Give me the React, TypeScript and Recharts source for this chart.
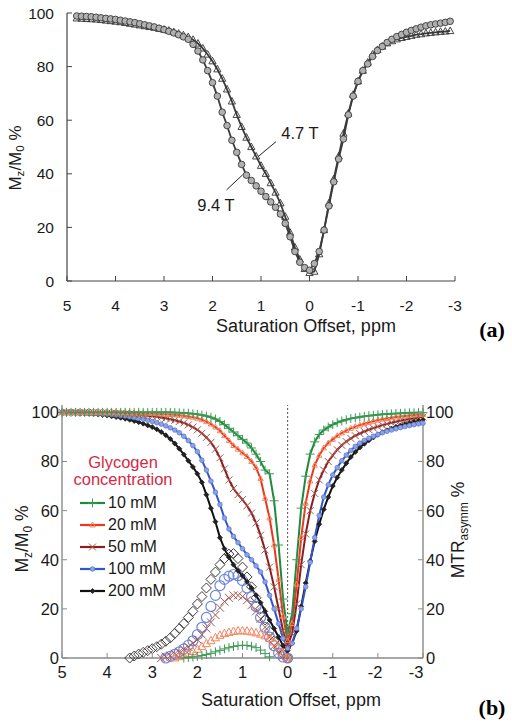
import React from 'react';
import { ComposedChart, Line, XAxis, YAxis, ReferenceLine, Legend } from 'recharts';

// ---------- Panel (a) data ----------
const offsetsA = [4.8, 4.7, 4.6, 4.5, 4.4, 4.3, 4.2, 4.1, 4.0, 3.9, 3.8, 3.7, 3.6, 3.5, 3.4, 3.3, 3.2, 3.1, 3.0, 2.9, 2.8, 2.7, 2.6, 2.5, 2.4, 2.3, 2.2, 2.1, 2.0, 1.9, 1.8, 1.7, 1.6, 1.5, 1.4, 1.3, 1.2, 1.1, 1.0, 0.9, 0.8, 0.7, 0.6, 0.5, 0.4, 0.3, 0.2, 0.1, 0.0, -0.1, -0.2, -0.3, -0.4, -0.5, -0.6, -0.7, -0.8, -0.9, -1.0, -1.1, -1.2, -1.3, -1.4, -1.5, -1.6, -1.7, -1.8, -1.9, -2.0, -2.1, -2.2, -2.3, -2.4, -2.5, -2.6, -2.7, -2.8, -2.9];
const mz94T = [98.9, 98.8, 98.7, 98.6, 98.4, 98.2, 98.0, 97.8, 97.6, 97.3, 97.0, 96.7, 96.4, 96.0, 95.6, 95.2, 94.8, 94.3, 93.8,
  93.2, 92.6, 91.9, 91.1, 90.2, 88.3, 85.8, 82.5, 78.5, 74.0, 69.0, 63.0, 58.0, 52.5, 48.0, 43.5, 39.5, 37.5, 35.5, 33.5, 31.5, 29.5, 27.5, 25.0, 21.5, 16.5, 11.0, 7.0, 5.0, 4.0,
  6.5, 11, 19, 28, 37, 45.5, 53, 62, 69, 74.5, 78.5, 81, 83.8, 86, 87.5, 89, 90.2, 91.2, 92, 92.8, 93.5, 94.1, 94.7, 95.2, 95.6, 95.9, 96.2, 96.5, 96.9];
const mz47T = [98.0, 97.9, 97.8, 97.7, 97.6, 97.4, 97.2, 97.0, 96.8, 96.6, 96.3, 96.0, 95.7, 95.4, 95.1, 94.8, 94.5, 94.1, 93.8,
  93.4, 92.9, 92.3, 91.7, 91.0, 90.0, 88.6, 86.8, 84.5, 82.0, 79.0, 75.5, 71.5, 67.0, 62.0, 57.5, 53.5, 50.0, 46.5, 43.0, 40.0, 36.5, 33.0, 29.0, 24.0, 18.0, 12.5, 8.0, 4.5, 3.0,
  3.5, 10, 19, 29, 38, 46.5, 55, 62.5, 69.5, 74.5, 78.5, 81.5, 84.5, 86.2, 87.5, 88.7, 89.5, 90.2, 90.7, 91.1, 91.5, 91.9, 92.1, 92.4, 92.6, 92.8, 93.0, 93.1, 93.3];
const ticksA = [5, 4, 3, 2, 1, 0, -1, -2, -3];
const ticksY = [0, 20, 40, 60, 80, 100];

// ---------- Panel (b) data ----------
const offsetsB = [5.0, 4.9, 4.8, 4.7, 4.6, 4.5, 4.4, 4.3, 4.2, 4.1, 4.0, 3.9, 3.8, 3.7, 3.6, 3.5, 3.4, 3.3, 3.2, 3.1, 3.0, 2.9, 2.8, 2.7, 2.6, 2.5, 2.4, 2.3, 2.2, 2.1, 2.0, 1.9, 1.8, 1.7, 1.6, 1.5, 1.4, 1.3, 1.2, 1.1, 1.0, 0.9, 0.8, 0.7, 0.6, 0.5, 0.4, 0.3, 0.2, 0.1, 0.0, -0.1, -0.2, -0.3, -0.4, -0.5, -0.6, -0.7, -0.8, -0.9, -1.0, -1.1, -1.2, -1.3, -1.4, -1.5, -1.6, -1.7, -1.8, -1.9, -2.0, -2.1, -2.2, -2.3, -2.4, -2.5, -2.6, -2.7, -2.8, -2.9, -3.0];
const mz10 = [100, 100, 100, 100, 100, 100, 100, 100, 100, 100, 100, 100, 100, 100, 100, 100, 100, 100, 100, 100, 100, 100, 100, 100, 100,
  99.9, 99.8, 99.7, 99.6, 99.4, 99.2, 98.9, 98.5, 98.0, 97.3, 96.3, 95.0, 93.5, 92.0, 90.5, 89.0, 87.5, 85.5, 83.0, 80.0, 76.5, 75.0, 64.0, 46.0, 24.0, 10.0,
  18, 40, 61, 74, 83, 88, 91, 92.8, 94, 95, 95.8, 96.5, 97, 97.5, 97.8, 98.1, 98.4, 98.6, 98.8, 99, 99.2, 99.3, 99.4, 99.5, 99.6, 99.7, 99.8, 99.8, 99.9, 99.9];
const mz20 = [100, 100, 100, 100, 100, 100, 100, 100, 100, 100, 100,
  100, 99.9, 99.9, 99.9, 99.8, 99.8, 99.7, 99.7, 99.6, 99.5, 99.4, 99.3, 99.2, 99.1, 99.0,
  98.8, 98.6, 98.3, 98.0, 97.6, 97.0, 96.2, 95.2, 94.0, 92.5, 90.5, 88.5, 86.5, 85.0, 83.5, 82.0, 80.0, 77.5, 73.0, 65.0, 57.0, 46.0, 32.0, 17.0, 7.0,
  14, 30, 49, 63, 72, 78.5, 82.5, 85.5, 87.5, 89, 90.5, 91.6, 92.6, 93.5, 94.2, 94.8, 95.4, 95.9, 96.4, 96.8, 97.2, 97.5, 97.8, 98.1, 98.3, 98.5, 98.7, 98.9, 99, 99.1];
const mz50 = [100, 100, 100, 100, 100, 100, 99.9, 99.9, 99.9, 99.8, 99.8, 99.7, 99.6, 99.5, 99.4, 99.3, 99.2, 99.0, 98.8, 98.6, 98.4,
  98.2, 97.9, 97.6, 97.2, 96.8, 96.3, 95.7, 94.9, 94.0, 92.9, 91.5, 89.8, 87.8, 85.0, 81.5, 77.0, 72.5, 69.0, 66.5, 64.5, 62.0, 59.0, 55.0, 50.0, 44.0, 37.0, 29.0, 20.0, 11.0, 5.0,
  10, 22, 38, 50.5, 60, 67, 72.5, 76.5, 80, 82.5, 84.8, 86.6, 88.1, 89.4, 90.5, 91.4, 92.2, 93, 93.6, 94.2, 94.8, 95.3, 95.8, 96.2, 96.6, 97, 97.3, 97.6, 97.9, 98.1];
const mz100 = [100, 100, 100, 99.9, 99.9, 99.8, 99.7, 99.6, 99.5, 99.4, 99.3, 99.1, 98.9, 98.7, 98.5,
  98.2, 97.9, 97.6, 97.2, 96.8, 96.3, 95.8, 95.2, 94.5, 93.7, 92.8, 91.7, 90.3, 88.5, 86.5, 84.0, 80.5, 76.5, 72.0, 67.5, 62.5, 57.0, 52.5, 49.5, 47.0, 44.5, 42.0, 40.0, 37.5, 35.0, 31.0, 25.5, 20.0, 14.0, 8.0, 4.0,
  6, 12, 20, 29, 39, 49, 58, 65.5, 70.5, 74.5, 77.5, 80.3, 82.6, 84.5, 86.2, 87.5, 88.6, 89.5, 90.3, 91, 91.7, 92.3, 92.8, 93.3, 93.8, 94.2, 94.6, 95, 95.3, 95.6];
const mz200 = [100, 100, 99.9, 99.8, 99.7, 99.6, 99.5, 99.3, 99.1, 98.9, 98.7, 98.4, 98.1, 97.8, 97.4, 97.0, 96.5, 96.0, 95.4, 94.7, 94.0,
  93.1, 92.0, 90.7, 89.2, 87.3, 85.2, 82.8, 80.3, 77.8, 75.0, 71.5, 66.5, 61.0, 55.5, 49.0, 44.5, 41.0, 38.0, 35.5, 33.5, 31.0, 28.5, 25.5, 22.5, 19.0, 15.5, 12.0, 8.5, 5.0, 3.0,
  6, 11, 21, 30.5, 39.5, 47.5, 54.5, 60.5, 65.5, 70, 73.5, 76.5, 79.3, 81.8, 83.9, 85.7, 87.2, 88.6, 89.8, 90.9, 91.9, 92.7, 93.4, 94.1, 94.7, 95.3, 95.8, 96.3, 96.7, 97.1];

const mtrOffsets = [3.5, 3.4, 3.3, 3.2, 3.1, 3.0, 2.9, 2.8, 2.7, 2.6, 2.5, 2.4, 2.3, 2.2, 2.1, 2.0, 1.9, 1.8, 1.7, 1.6, 1.5, 1.4, 1.3, 1.2, 1.1, 1.0, 0.9, 0.8, 0.7, 0.6, 0.5, 0.4, 0.3, 0.2, 0.1, 0.0];
const mtr10 = [null, null, null, null, null, null, null, null, null, null, null, null,
  0, 0.2, 0.4, 0.7, 1.0, 1.4, 1.9, 2.5, 3.1, 3.7, 4.2, 4.7, 5.0, 5.2, 5.1, 4.8, 4.2, 3.2, 1.8, 0.5, null, null, null, null];
const mtr20 = [null, null, null, null, null, null, null, null, null, null,
  0, 0.5, 1.0, 1.8, 2.6, 3.5, 4.6, 5.8, 7.0, 8.2, 9.2, 9.9, 10.4, 10.8, 11.0, 11.0, 10.9, 10.6, 10.2, 9.7, 9.0, 8.0, 6.5, 4.5, 2.0, 0];
const mtr50 = [null, null, null, null, null, null, null,
  0, 0.5, 1.0, 1.7, 2.5, 3.5, 4.5, 6.0, 7.5, 9.5, 12.0, 14.5, 17.5, 20.5, 23.0, 24.5, 25.5, 25.5, 25.0, 23.5, 21.5, 19.0, 16.0, 12.5, 8.5, 5.0, 2.5, 1.0, 0];
const mtr100 = [null, null, null, null, null, null, null, null,
  0, 0.7, 1.5, 2.5, 3.7, 5.2, 7.0, 9.5, 12.5, 16.5, 21.0, 25.5, 29.5, 32.0, 33.3, 34.0, 33.5, 31.5, 28.5, 25.0, 21.0, 16.5, 12.5, 8.5, 5.0, 2.0, 0.4, 0];
const mtr200 = [0, 0.8, 1.6, 2.3, 3.0, 3.8, 4.6, 5.6, 6.8, 8.2, 10.0, 12.0, 14.0, 16.5, 19.0, 22.0, 25.0, 28.5, 32.0, 35.0, 38.0, 40.5, 42.3, 42.5, 40.5, 37.0, 33.0, 29.0, 24.5, 20.0, 15.5, 11.0, 7.0, 4.0, 1.5, 0];

const seriesNames = ['10 mM', '20 mM', '50 mM', '100 mM', '200 mM'];
const seriesKeys = ['c10', 'c20', 'c50', 'c100', 'c200'];

// ---------- derived tables ----------
const rowsA = offsetsA.map((x, i) => ({ x, t94: mz94T[i], t47: mz47T[i] }));
const rowsB = offsetsB.map((x, i) => ({ x, c10: mz10[i], c20: mz20[i], c50: mz50[i], c100: mz100[i], c200: mz200[i] }));
const rowsM = mtrOffsets.map((x, i) => ({ x, c10: mtr10[i], c20: mtr20[i], c50: mtr50[i], c100: mtr100[i], c200: mtr200[i] }));

// ---------- styles ----------
const FONT = '"Liberation Sans", Arial, Helvetica, sans-serif';
const lineColors = ['#1f8a3c', '#e8381e', '#8b1e1e', '#3355cc', '#111111'];
const zMarkers = [
  { kind: 'plus', s: 4.5, stroke: '#3c9a55', fill: 'none', sw: 1 },
  { kind: 'tri', s: 3, stroke: '#f5845f', fill: 'none', sw: 1 },
  { kind: 'x', s: 3.5, stroke: '#a8574f', fill: 'none', sw: 1 },
  { kind: 'circle', s: 2.3, stroke: '#5b7bd5', fill: '#8ea3e2', sw: 0.8 },
  { kind: 'diamond', s: 2.5, stroke: '#222', fill: '#222', sw: 0.8 },
];
const mMarkers = [
  { kind: 'plus', s: 4.5, stroke: '#3c9a55', fill: 'none', sw: 1 },
  { kind: 'tri', s: 4.5, stroke: '#f5845f', fill: 'none', sw: 1 },
  { kind: 'x', s: 4, stroke: '#a8574f', fill: 'none', sw: 1 },
  { kind: 'circle', s: 5, stroke: '#6f86dc', fill: 'none', sw: 1.2 },
  { kind: 'diamond', s: 5, stroke: '#3c3c3c', fill: 'none', sw: 1 },
];

function marker(kind: string, cx: number, cy: number, s: number, stroke: string, fill: string, sw: number, key: any) {
  switch (kind) {
    case 'circle':
      return <circle key={key} cx={cx} cy={cy} r={s} stroke={stroke} fill={fill} strokeWidth={sw} />;
    case 'tri':
      return <path key={key} d={`M${cx},${cy - s}L${cx + s * 0.9},${cy + s * 0.65}L${cx - s * 0.9},${cy + s * 0.65}Z`} stroke={stroke} fill={fill} strokeWidth={sw} />;
    case 'plus':
      return <path key={key} d={`M${cx - s},${cy}H${cx + s}M${cx},${cy - s}V${cy + s}`} stroke={stroke} fill="none" strokeWidth={sw} />;
    case 'x':
      return <path key={key} d={`M${cx - s},${cy - s}L${cx + s},${cy + s}M${cx - s},${cy + s}L${cx + s},${cy - s}`} stroke={stroke} fill="none" strokeWidth={sw} />;
    case 'diamond':
      return <path key={key} d={`M${cx},${cy - s}L${cx + s},${cy}L${cx},${cy + s}L${cx - s},${cy}Z`} stroke={stroke} fill={fill} strokeWidth={sw} />;
    default:
      return <g key={key} />;
  }
}

const dotFn = (m: any) => (p: any) => {
  if (p.value == null || p.cx == null || p.cy == null || Number.isNaN(p.cy)) return <g key={p.index} />;
  return marker(m.kind, p.cx, p.cy, m.s, m.stroke, m.fill, m.sw, p.index);
};

// digitCentered: for negative labels, centre the digit (not the minus) on the tick; edgeShift nudges the last label inward
const xTick = (fs: number, gap: number, tickColor: string, digitCentered: boolean, edgeShift: number) => (p: any) => {
  const v = p.payload.value;
  let dx = 0;
  if (digitCentered && v < 0) dx = -fs * 0.17;
  if (v === -3) dx -= edgeShift;
  return (
    <g>
      <line x1={p.x} x2={p.x} y1={p.y} y2={p.y - 5} stroke={tickColor} strokeWidth={1} />
      <text x={p.x + dx} y={p.y + gap} textAnchor="middle" dominantBaseline="central" fontSize={fs} fill="#1a1a1a" fontFamily={FONT}>{v}</text>
    </g>
  );
};
const yTickLeft = (fs: number, gap: number, tickColor: string) => (p: any) => (
  <g>
    <line x1={p.x} x2={p.x + 5} y1={p.y} y2={p.y} stroke={tickColor} strokeWidth={1} />
    <text x={p.x - gap} y={p.y} textAnchor="end" dominantBaseline="central" fontSize={fs} fill="#1a1a1a" fontFamily={FONT}>{p.payload.value}</text>
  </g>
);
const yTickRight = (fs: number, gap: number, tickColor: string) => (p: any) => (
  <g>
    <line x1={p.x} x2={p.x - 5} y1={p.y} y2={p.y} stroke={tickColor} strokeWidth={1} />
    <text x={p.x + gap} y={p.y} textAnchor="start" dominantBaseline="central" fontSize={fs} fill="#1a1a1a" fontFamily={FONT}>{p.payload.value}</text>
  </g>
);

const Abs = ({ x, y, rotate, style, children }: any) => (
  <div style={{ position: 'absolute', left: x, top: y, transform: `translate(-50%,-50%)${rotate ? ' rotate(-90deg)' : ''}`, whiteSpace: 'nowrap', fontFamily: FONT, color: '#1a1a1a', lineHeight: 1, ...style }}>
    {children}
  </div>
);

const subStyle: any = { fontSize: '0.68em', verticalAlign: '-0.3em', lineHeight: 0 };

const LegendBox = () => (
  <div style={{ fontFamily: FONT, width: 130 }}>
    <div style={{ color: '#d42a45', fontSize: 16.5, textAlign: 'center', lineHeight: '17px', width: 102 }}>Glycogen<br />concentration</div>
    <div style={{ marginTop: 4, paddingLeft: 7 }}>
      {seriesNames.map((n, i) => (
        <div key={n} style={{ display: 'flex', alignItems: 'center', height: 22 }}>
          <svg width={28} height={14} style={{ display: 'block' }}>
            <line x1={1} x2={26} y1={7} y2={7} stroke={lineColors[i]} strokeWidth={2.2} />
            {marker(zMarkers[i].kind, 13.5, 7, zMarkers[i].s, zMarkers[i].stroke, zMarkers[i].fill, zMarkers[i].sw, 'm')}
          </svg>
          <span style={{ fontSize: 16, color: '#1a1a1a', marginLeft: 1 }}>{n}</span>
        </div>
      ))}
    </div>
  </div>
);

export default function App() {
  return (
    <div style={{ position: 'absolute', left: 0, top: 0, width: 512, height: 727, background: '#fff', overflow: 'hidden' }}>
      {/* Panel (a) */}
      <div style={{ position: 'absolute', left: 0, top: 0 }}>
        <ComposedChart width={512} height={340} data={rowsA} margin={{ top: 13, right: 57, left: 0, bottom: 0 }}>
          <XAxis dataKey="x" type="number" domain={[-3, 5]} reversed ticks={ticksA} interval={0} height={59}
            tickLine={false} tickSize={0} tickMargin={0} axisLine={{ stroke: '#444', strokeWidth: 1.2 }} tick={xTick(15.5, 24, '#444', false, 0)} />
          <XAxis xAxisId="top" dataKey="x" type="number" domain={[-3, 5]} reversed orientation="top" height={0}
            tick={false} tickLine={false} axisLine={{ stroke: '#444', strokeWidth: 1.2 }} />
          <YAxis type="number" domain={[0, 100]} ticks={ticksY} interval={0} width={67}
            tickLine={false} tickSize={0} tickMargin={0} axisLine={{ stroke: '#444', strokeWidth: 1.2 }} tick={yTickLeft(15.5, 13, '#444')} />
          <YAxis yAxisId="frame" orientation="right" type="number" domain={[0, 100]} width={0}
            tick={false} tickLine={false} axisLine={{ stroke: '#444', strokeWidth: 1.2 }} />
          <ReferenceLine segment={[{ x: 0.69, y: 52 }, { x: 1.06, y: 46.4 }]} stroke="#222" strokeWidth={1} />
          <ReferenceLine segment={[{ x: 1.71, y: 34 }, { x: 1.38, y: 39.6 }]} stroke="#222" strokeWidth={1} />
          <Line dataKey="t47" name="4.7 T" stroke="#3c3c3c" strokeWidth={1.8} isAnimationActive={false}
            dot={dotFn({ kind: 'tri', s: 4, stroke: '#333', fill: 'none', sw: 0.9 })} activeDot={false} />
          <Line dataKey="t94" name="9.4 T" stroke="#3c3c3c" strokeWidth={1.8} isAnimationActive={false}
            dot={dotFn({ kind: 'circle', s: 3.3, stroke: '#3a3a3a', fill: '#b0b0b0', sw: 0.9 })} activeDot={false} />
        </ComposedChart>
      </div>
      <Abs x={14.5} y={158} rotate style={{ fontSize: 17 }}>M<span style={subStyle}>z</span>/M<span style={subStyle}>0</span> %</Abs>
      <Abs x={306} y={326} style={{ fontSize: 18 }}>Saturation Offset, ppm</Abs>
      <Abs x={300} y={133} style={{ fontSize: 16.5 }}>4.7 T</Abs>
      <Abs x={216} y={205} style={{ fontSize: 16.5 }}>9.4 T</Abs>
      <Abs x={492} y={330} style={{ fontSize: 22, fontWeight: 'bold', fontFamily: '"Liberation Serif", "Times New Roman", serif', color: '#000' }}>(a)</Abs>

      {/* Panel (b) */}
      <div style={{ position: 'absolute', left: 0, top: 390 }}>
        <ComposedChart width={512} height={337} data={rowsB} margin={{ top: 15, right: 0, left: 0, bottom: 0 }}>
          <XAxis dataKey="x" type="number" domain={[-3, 5]} reversed ticks={ticksA} interval={0} height={69}
            tickLine={false} tickSize={0} tickMargin={0} axisLine={{ stroke: '#8a8a8a', strokeWidth: 1.4 }} tick={xTick(16.5, 14, '#8a8a8a', true, 4)} />
          <XAxis xAxisId="top" dataKey="x" type="number" domain={[-3, 5]} reversed orientation="top" height={0}
            tick={false} tickLine={false} axisLine={{ stroke: '#8a8a8a', strokeWidth: 1.4 }} />
          <YAxis type="number" domain={[0, 103]} ticks={ticksY} interval={0} width={62}
            tickLine={false} tickSize={0} tickMargin={0} axisLine={{ stroke: '#8a8a8a', strokeWidth: 1.4 }} tick={yTickLeft(16.5, 3, '#8a8a8a')} />
          <YAxis yAxisId="r" orientation="right" type="number" domain={[0, 103]} ticks={ticksY} interval={0} width={89}
            tickLine={false} tickSize={0} tickMargin={0} axisLine={{ stroke: '#8a8a8a', strokeWidth: 1.4 }} tick={yTickRight(16.5, 3, '#8a8a8a')} />
          <ReferenceLine x={0} stroke="#555" strokeDasharray="2 2" strokeWidth={1} />
          <Legend layout="vertical" align="center" verticalAlign="middle" content={() => <LegendBox />}
            wrapperStyle={{ left: 72, top: 64, width: 130, height: 140 }} />
          {[4, 3, 2, 1, 0].map((i) => (
            <Line key={'m' + i} data={rowsM} dataKey={seriesKeys[i]} yAxisId="r" legendType="none" stroke="none" strokeWidth={0}
              isAnimationActive={false} dot={dotFn(mMarkers[i])} activeDot={false} />
          ))}
          {[4, 3, 2, 1, 0].map((i) => (
            <Line key={'z' + i} dataKey={seriesKeys[i]} name={seriesNames[i]} stroke={lineColors[i]} strokeWidth={2}
              isAnimationActive={false} dot={dotFn(zMarkers[i])} activeDot={false} />
          ))}
        </ComposedChart>
      </div>
      <Abs x={22.5} y={539} rotate style={{ fontSize: 17.5 }}>M<span style={subStyle}>z</span>/M<span style={subStyle}>0</span> %</Abs>
      <Abs x={459} y={530} rotate style={{ fontSize: 17.5 }}>MTR<span style={subStyle}>asymm</span> %</Abs>
      <Abs x={291} y={700} style={{ fontSize: 18 }}>Saturation Offset, ppm</Abs>
      <Abs x={492} y={708} style={{ fontSize: 22, fontWeight: 'bold', fontFamily: '"Liberation Serif", "Times New Roman", serif', color: '#000' }}>(b)</Abs>
    </div>
  );
}
